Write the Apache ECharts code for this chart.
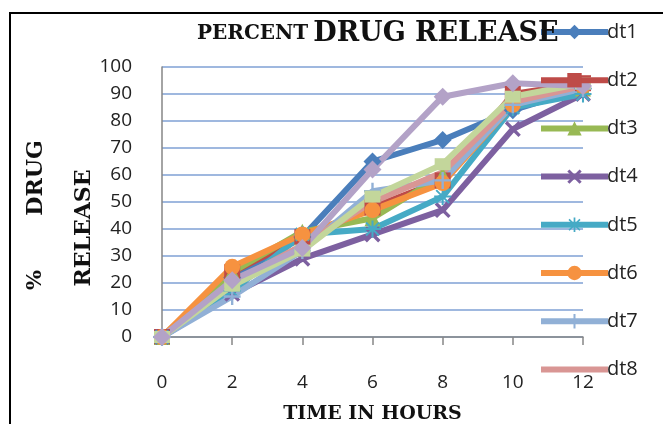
<!DOCTYPE html>
<html>
<head>
<meta charset="utf-8">
<script src="https://cdn.jsdelivr.net/npm/echarts@6/dist/echarts.min.js"></script>
<style>
	html, body { margin: 0; padding: 0; background: #fff; }
	#main { width: 663px; height: 424px; }
</style>
</head>
<body>
<div id="main"></div>
<script>
// time points (hours) and % release
var hours = [0, 2, 4, 6, 8, 10, 12];
var dt1 = [0, 22, 37, 65, 73, 84, 92];
var dt2 = [0, 24, 37, 48, 58, 90, 94];
var dt3 = [0, 24, 39, 44, 60, 88, 92];
var dt4 = [0, 16, 29, 38, 47, 77, 90];
var dt5 = [0, 17, 38, 40, 52, 85, 90];
var dt6 = [0, 26, 38, 47, 57, 86, 93];
var dt7 = [0, 15, 32, 54, 58, 86, 92];
var dt8 = [0, 20, 34, 50, 61, 87, 93];
var dt9 = [0, 19, 32, 52, 64, 89, 94];
var dt10 = [0, 21, 33, 62, 89, 94, 93];
var yTicks = [0, 10, 20, 30, 40, 50, 60, 70, 80, 90, 100];
var legendNames = ['dt1', 'dt2', 'dt3', 'dt4', 'dt5', 'dt6', 'dt7', 'dt8'];

var X_PATH = 'path://M0,1.5 L1.5,0 L10,8.5 L8.5,10 Z M8.5,0 L10,1.5 L1.5,10 L0,8.5 Z';
var STAR_PATH = 'path://M4.4,0 L5.6,0 L5.6,10 L4.4,10 Z M0,4.4 L10,4.4 L10,5.6 L0,5.6 Z M0.8,1.6 L1.6,0.8 L9.2,8.4 L8.4,9.2 Z M8.4,0.8 L9.2,1.6 L1.6,9.2 L0.8,8.4 Z';
var PLUS_PATH = 'path://M4.3,0 L5.7,0 L5.7,10 L4.3,10 Z M0,4.3 L10,4.3 L10,5.7 L0,5.7 Z';

function pairs(vals) {
	return hours.map(function (h, i) { return [h, vals[i]]; });
}

function mkSeries(name, vals, color, symbol, size) {
	return {
		name : name,
		type : 'line',
		data : pairs(vals),
		symbol : symbol,
		symbolSize : size,
		showSymbol : symbol !== 'none',
		lineStyle : { color : color, width : 6 },
		itemStyle : { color : color },
		emphasis : { disabled : true },
		animation : false
	};
}

// legend entries; dt8 shows only its line
var legendData = legendNames.map(function (n) {
	if (n === 'dt8') {
		return { name : n, itemStyle : { opacity : 0 } };
	}
	return { name : n };
});

var chart = echarts.init(document.getElementById('main'));
var option = {
	backgroundColor : '#fff',
	title : {
		text : '{a|PERCENT} {b|DRUG RELEASE}',
		left : 192,
		top : 15,
		textStyle : {
			rich : {
				a : { fontFamily : 'DejaVu Serif', fontWeight : 'bold', fontSize : 20, color : '#111' },
				b : { fontFamily : 'DejaVu Serif', fontWeight : 'bold', fontSize : 27, color : '#111' }
			}
		}
	},
	legend : {
		data : legendData,
		orient : 'vertical',
		left : 533,
		top : 17,
		itemWidth : 67,
		itemHeight : 18,
		itemGap : 28.2,
		lineStyle : { width : 6 },
		textStyle : { fontFamily : 'Open Sans', fontSize : 20, color : '#222', padding : [0, 0, 0, -6] }
	},
	grid : { left : 162, right : 80, top : 67, bottom : 87, outerBoundsMode : 'none' },
	xAxis : {
		type : 'value',
		min : 0,
		max : 12,
		interval : 2,
		name : 'TIME IN HOURS',
		nameLocation : 'middle',
		nameGap : 68,
		nameTextStyle : { fontFamily : 'DejaVu Serif', fontWeight : 'bold', fontSize : 19, color : '#111' },
		axisLine : { lineStyle : { color : '#868686', width : 1.5 } },
		axisTick : { show : true, length : 8, lineStyle : { color : '#868686', width : 1.5 } },
		axisLabel : { margin : 36, fontFamily : 'Open Sans', fontSize : 19, color : '#222' },
		splitLine : { show : false }
	},
	yAxis : {
		type : 'value',
		min : yTicks[0],
		max : yTicks[yTicks.length - 1],
		interval : 10,
		axisLine : { show : true, lineStyle : { color : '#868686', width : 1.5 } },
		axisTick : { show : false },
		axisLabel : { margin : 30, fontFamily : 'Open Sans', fontSize : 19, color : '#222' },
		splitLine : { lineStyle : { color : '#7FA0D4', width : 1.5 } }
	},
	graphic : [
		{ type : 'rect', shape : { x : 10, y : 13, width : 700, height : 500 },
			style : { fill : 'none', stroke : '#000', lineWidth : 2 }, silent : true },
		{ type : 'text', x : 36, y : 280, rotation : Math.PI / 2,
			style : { text : '%', font : 'bold 21px "DejaVu Serif"', fill : '#111', align : 'center', verticalAlign : 'middle' } },
		{ type : 'text', x : 36, y : 178, rotation : Math.PI / 2,
			style : { text : 'DRUG', font : 'bold 22px "DejaVu Serif"', fill : '#111', align : 'center', verticalAlign : 'middle' } },
		{ type : 'text', x : 84, y : 228, rotation : Math.PI / 2,
			style : { text : 'RELEASE', font : 'bold 22px "DejaVu Serif"', fill : '#111', align : 'center', verticalAlign : 'middle' } }
	],
	series : [
		mkSeries('dt1', dt1, '#4A7EBB', 'diamond', 18),
		mkSeries('dt2', dt2, '#BE4B48', 'rect', 16),
		mkSeries('dt3', dt3, '#98B954', 'triangle', 16),
		mkSeries('dt4', dt4, '#7D60A0', X_PATH, 16),
		mkSeries('dt5', dt5, '#46AAC5', STAR_PATH, 17),
		mkSeries('dt6', dt6, '#F69240', 'circle', 16),
		mkSeries('dt7', dt7, '#91B0D6', PLUS_PATH, 17),
		mkSeries('dt8', dt8, '#D99694', 'none', 0),
		mkSeries('dt9', dt9, '#C3D69B', 'rect', [16, 12]),
		mkSeries('dt10', dt10, '#B3A2C7', 'diamond', 18)
	]
};
if (option && typeof option === 'object') {
	chart.setOption(option, true);
}
</script>
</body>
</html>
